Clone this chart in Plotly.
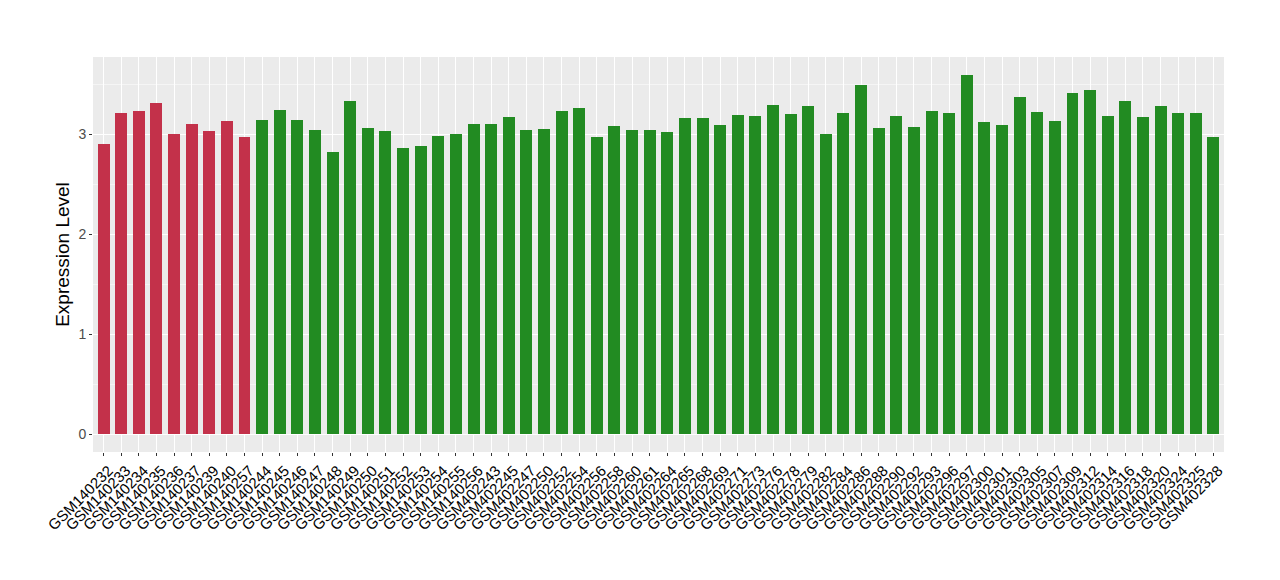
"""
Expression level per sample, ggplot-like bar chart rebuilt in Plotly.
"""
import plotly.graph_objects as go

samples = [
    "GSM140232", "GSM140233", "GSM140234", "GSM140235", "GSM140236", "GSM140237",
    "GSM140239", "GSM140240", "GSM140257",
    "GSM140244", "GSM140245", "GSM140246", "GSM140247", "GSM140248", "GSM140249",
    "GSM140250", "GSM140251", "GSM140252", "GSM140253", "GSM140254", "GSM140255",
    "GSM140256",
    "GSM402243", "GSM402245", "GSM402247", "GSM402250", "GSM402252", "GSM402254",
    "GSM402256", "GSM402258", "GSM402260", "GSM402261", "GSM402264", "GSM402265",
    "GSM402268", "GSM402269", "GSM402271", "GSM402273", "GSM402276", "GSM402278",
    "GSM402279", "GSM402282", "GSM402284", "GSM402286", "GSM402288", "GSM402290",
    "GSM402292", "GSM402293", "GSM402296", "GSM402297", "GSM402300", "GSM402301",
    "GSM402303", "GSM402305", "GSM402307", "GSM402309", "GSM402312", "GSM402314",
    "GSM402316", "GSM402318", "GSM402320", "GSM402324", "GSM402325", "GSM402328",
]

expression = [
    2.90, 3.21, 3.23, 3.31, 3.00, 3.10, 3.03, 3.13, 2.97,
    3.14, 3.24, 3.14, 3.04, 2.82, 3.33, 3.06, 3.03, 2.86, 2.88, 2.98, 3.00, 3.10,
    3.10, 3.17, 3.04, 3.05, 3.23, 3.26, 2.97, 3.08, 3.04, 3.04, 3.02, 3.16,
    3.16, 3.09, 3.19, 3.18, 3.29, 3.20, 3.28, 3.00, 3.21, 3.49, 3.06, 3.18,
    3.07, 3.23, 3.21, 3.59, 3.12, 3.09, 3.37, 3.22, 3.13, 3.41, 3.44, 3.18,
    3.33, 3.17, 3.28, 3.21, 3.21, 2.97,
]

# 9 premiers echantillons en rouge, le reste en vert
groups = ["red"] * 9 + ["green"] * 55
group_colors = {"red": "#C3314A", "green": "#228B22"}

fig = go.Figure(
    data=go.Bar(
        x=samples,
        y=expression,
        marker=dict(color=[group_colors[g] for g in groups], line=dict(width=0)),
        width=0.68,
        showlegend=False,
    )
)

# la page ajoute 8 px de marge au body : on compense ici
fig.update_layout(
    width=1280,
    height=580,
    margin=dict(l=85, r=64, t=49, b=136, autoexpand=False),
    paper_bgcolor="white",
    plot_bgcolor="#EBEBEB",
    font=dict(family="Liberation Sans, Arial, sans-serif", color="black"),
    bargap=0,
)
fig.update_xaxes(
    type="category",
    range=[-0.6, 63.6],
    tickmode="linear",
    dtick=1,
    tickangle=-45,
    tickfont=dict(size=15, color="black"),
    ticklabelshift=5,
    showgrid=True,
    gridcolor="white",
    gridwidth=1.2,
    ticks="outside",
    ticklen=3,
    tickcolor="#333333",
    zeroline=False,
    showline=False,
    automargin=False,
)
fig.update_yaxes(
    range=[-0.18, 3.77],
    tickvals=[0, 1, 2, 3],
    tickfont=dict(size=14, color="#4D4D4D"),
    title=dict(text="Expression Level", font=dict(size=19, color="black"), standoff=3),
    showgrid=True,
    gridcolor="white",
    gridwidth=1.2,
    minor=dict(dtick=0.5, tick0=0.5, showgrid=True, gridcolor="#F5F5F5", gridwidth=0.6),
    ticks="outside",
    ticklen=3,
    tickcolor="#333333",
    zeroline=False,
    showline=False,
    automargin=True,
)

fig.write_html("out.html")
